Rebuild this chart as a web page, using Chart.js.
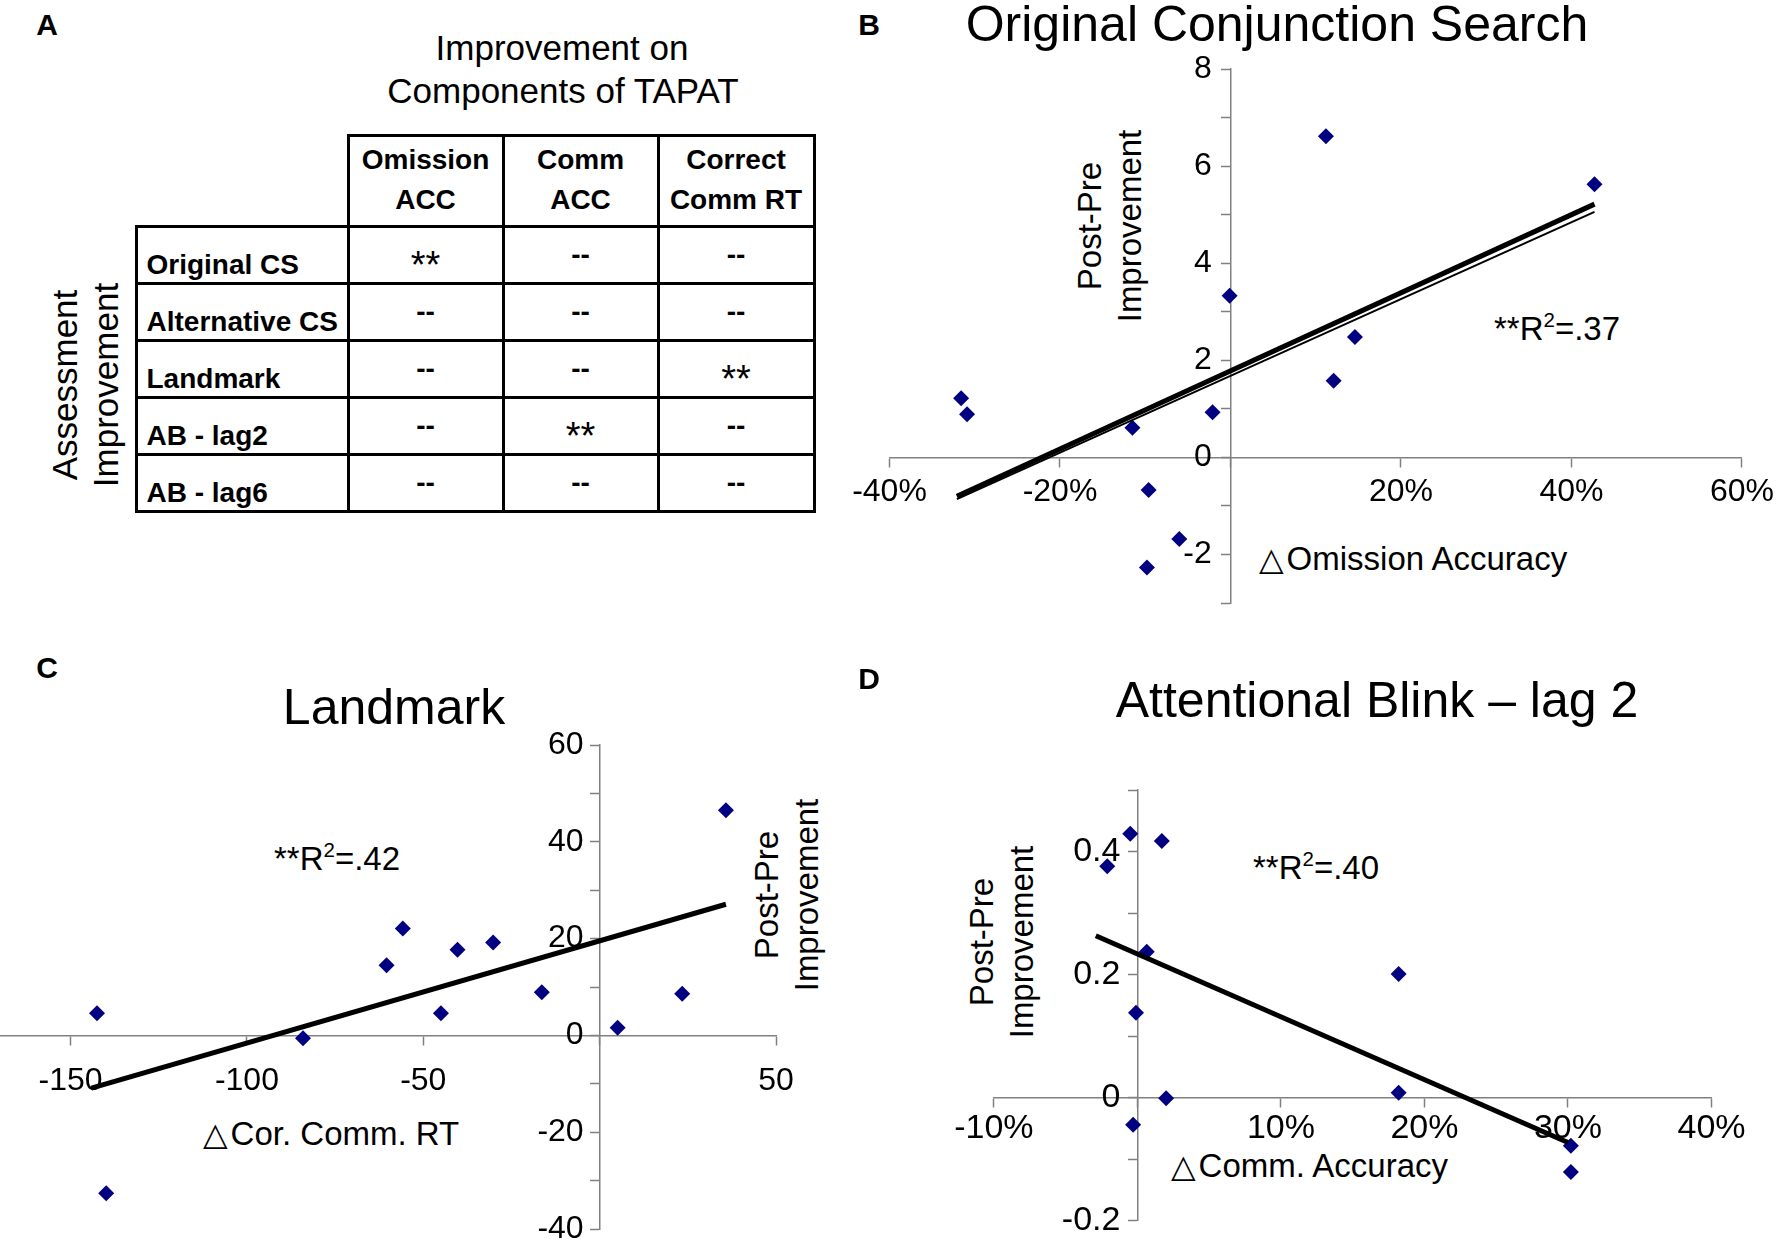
<!DOCTYPE html>
<html>
<head>
<meta charset="utf-8">
<title>TAPAT improvement</title>
<script src="https://cdn.jsdelivr.net/npm/chart.js@4.4.1/dist/chart.umd.min.js"></script>
<style>
  html, body { margin: 0; padding: 0; background: #fff; }
  body { width: 1781px; height: 1251px; position: relative; overflow: hidden;
         font-family: "Liberation Sans", Arial, sans-serif; color: #000; }
  .abs { position: absolute; white-space: nowrap; line-height: 1; }
  .ctr { transform: translate(-50%, -50%); }
  .lft { transform: translate(0, -50%); }
  .panel { font-weight: bold; font-size: 30px; }
  .title { font-size: 50px; }
  .note { font-size: 33px; }
  .tri { font-family: "DejaVu Sans", sans-serif; font-size: 32px; margin-right: 3px; }
  .ytitle { font-size: 33px; line-height: 40px; text-align: center;
            transform: translate(-50%, -50%) rotate(-90deg); }
  .head35 { font-size: 35px; }
  .rot35 { font-size: 35px; line-height: 41px; text-align: center;
           transform: translate(-50%, -50%) rotate(-90deg); }
  sup { font-size: 0.62em; vertical-align: 0.6em; line-height: 0; }
  canvas { position: absolute; }
  #tapat { position: absolute; left: 134.5px; top: 133.5px; border-collapse: collapse;
           table-layout: fixed; width: 678px; font-size: 28px; font-weight: bold; }
  #tapat td, #tapat th { border: 3px solid #000; padding: 0; overflow: visible; white-space: nowrap; }
  #tapat .corner { border-top: none; border-left: none; }
  #tapat th { font-weight: bold; vertical-align: bottom; line-height: 40px; padding-bottom: 5px; text-align: center; }
  #tapat td.rowlab { text-align: left; vertical-align: bottom; line-height: 32px; padding-left: 9px; padding-bottom: 1px; }
  #tapat td.mark { text-align: center; vertical-align: middle; line-height: 32px; }
  #tapat .stars { font-weight: normal; font-size: 38px; position: relative; top: 12px; }
</style>
</head>
<body>

<!-- panel A -->
<div class="abs ctr panel" style="left:47px; top:25px;">A</div>
<div class="abs ctr head35" style="left:562px; top:47px;">Improvement on</div>
<div class="abs ctr head35" style="left:563px; top:90px;">Components of TAPAT</div>
<div class="abs rot35" style="left:85px; top:385px;">Assessment<br>Improvement</div>
<table id="tapat"></table>

<!-- panel B -->
<div class="abs ctr panel" style="left:869px; top:25px;">B</div>
<div class="abs ctr title" style="left:1277px; top:24px;">Original Conjunction Search</div>
<div class="abs ytitle" style="left:1110px; top:226px;">Post-Pre<br>Improvement</div>
<div class="abs lft note" style="left:1494px; top:328px;">**R<sup>2</sup>=.37</div>
<div class="abs lft note" style="left:1259px; top:558px;"><span class="tri">△</span>Omission Accuracy</div>
<canvas id="chartB" width="951" height="590" style="left:830px; top:40px;"></canvas>

<!-- panel C -->
<div class="abs ctr panel" style="left:47px; top:668px;">C</div>
<div class="abs ctr title" style="left:394px; top:707px;">Landmark</div>
<div class="abs ytitle" style="left:787px; top:895px;">Post-Pre<br>Improvement</div>
<div class="abs lft note" style="left:274px; top:858px;">**R<sup>2</sup>=.42</div>
<div class="abs lft note" style="left:203px; top:1133px;"><span class="tri">△</span>Cor. Comm. RT</div>
<canvas id="chartC" width="890" height="561" style="left:-30px; top:690px;"></canvas>

<!-- panel D -->
<div class="abs ctr panel" style="left:869px; top:679px;">D</div>
<div class="abs ctr title" style="left:1377px; top:700px;">Attentional Blink – lag 2</div>
<div class="abs ytitle" style="left:1002px; top:942px;">Post-Pre<br>Improvement</div>
<div class="abs lft note" style="left:1253px; top:867px;">**R<sup>2</sup>=.40</div>
<div class="abs lft note" style="left:1171px; top:1165px;"><span class="tri">△</span>Comm. Accuracy</div>
<canvas id="chartD" width="881" height="551" style="left:900px; top:700px;"></canvas>

<script>
// ---- panel A: significance table ----
const tableCols = [['Omission', 'ACC'], ['Comm', 'ACC'], ['Correct', 'Comm RT']];
const tableRows = ['Original CS', 'Alternative CS', 'Landmark', 'AB - lag2', 'AB - lag6'];
const tableMarks = [
  ['**', '--', '--'],
  ['--', '--', '--'],
  ['--', '--', '**'],
  ['--', '**', '--'],
  ['--', '--', '--']
];

// ---- panel B: Original Conjunction Search ----
const bOmissionAcc = [-31.6, -30.9, -11.5, -9.6, -9.8, -6.0, -2.1, -0.1, 11.2, 12.1, 14.6, 42.7];
const bImprovement = [1.22, 0.89, 0.61, -0.67, -2.27, -1.68, 0.93, 3.33, 6.62, 1.58, 2.48, 5.63];
const bTrendX = [-32.1, 42.7];
const bTrendY = [-0.80, 5.22];
const bTrend2Y = [-0.86, 5.06];
const bXTicks = [-40, -20, 0, 20, 40, 60];
const bYTicks = [-3, -2, -1, 0, 1, 2, 3, 4, 5, 6, 7, 8];

// ---- panel C: Landmark ----
const cCommRT = [-142.5, -139.9, -84.1, -60.4, -55.8, -45.0, -40.3, -30.2, -16.4, 5.1, 23.4, 35.8];
const cImprovement = [4.6, -32.6, -0.6, 14.5, 22.1, 4.6, 17.7, 19.2, 8.9, 1.6, 8.6, 46.5];
const cTrendX = [-144.1, 35.8];
const cTrendY = [-10.9, 27.1];
const cXTicks = [-150, -100, -50, 0, 50];
const cYTicks = [-40, -30, -20, -10, 0, 10, 20, 30, 40, 50, 60];

// ---- panel D: Attentional Blink - lag 2 ----
const dCommAcc = [-2.1, -0.5, 1.7, 0.65, -0.1, 2.0, -0.3, 18.2, 18.2, 30.2, 30.2];
const dImprovement = [0.376, 0.429, 0.417, 0.237, 0.138, -0.001, -0.044, 0.201, 0.008, -0.078, -0.121];
const dTrendX = [-2.9, 30.0];
const dTrendY = [0.263, -0.073];
const dXTicks = [-10, 0, 10, 20, 30, 40];
const dYTicks = [-0.2, -0.1, 0, 0.1, 0.2, 0.3, 0.4, 0.5];

// build table
const tbl = document.getElementById('tapat');
let html = '<colgroup><col style="width:212px"><col style="width:155px"><col style="width:155px"><col style="width:156px"></colgroup>';
html += '<tr style="height:91px"><td class="corner"></td>' +
  tableCols.map(c => '<th>' + c.join('<br>') + '</th>').join('') + '</tr>';
tableRows.forEach((r, i) => {
  html += '<tr style="height:57px"><td class="rowlab">' + r + '</td>' +
    tableMarks[i].map(m => '<td class="mark">' + (m === '**' ? '<span class="stars">**</span>' : m) + '</td>').join('') +
    '</tr>';
});
tbl.innerHTML = html;

const FONT = '"Liberation Sans", Arial, sans-serif';
const AXIS_GREY = '#808080';
const MARKER = '#000080';

function pts(xs, ys) {
  return xs.map((x, i) => ({ x: x, y: ys[i] }));
}

function axis(opts) {
  return {
    type: 'linear',
    min: opts.min,
    max: opts.max,
    position: opts.position,
    afterBuildTicks: s => { s.ticks = opts.ticks.map(v => ({ value: v })); },
    grid: { display: true, drawOnChartArea: false, drawTicks: true,
            tickLength: 9, tickColor: AXIS_GREY, tickWidth: 1.5 },
    border: { display: true, color: AXIS_GREY, width: 1.5 },
    ticks: { autoSkip: false, maxRotation: 0, color: '#000', padding: opts.pad,
             font: { family: FONT, size: opts.size }, callback: opts.label }
  };
}

// y labels on a crossing axis are right-aligned on the axis line itself,
// a trailing gap keeps them off it
const GAP = '\u2002';

function scatter(id, trends, xs, ys, xAxis, yAxis, padding) {
  const datasets = trends.map(t => ({
    data: pts(t.x, t.y), showLine: true, borderColor: '#000', borderWidth: t.w,
    pointRadius: 0, fill: false
  }));
  datasets.push({
    data: pts(xs, ys), pointStyle: 'rectRot', pointRadius: 8,
    backgroundColor: MARKER, borderColor: MARKER, borderWidth: 0
  });
  return new Chart(document.getElementById(id), {
    type: 'scatter',
    data: { datasets: datasets },
    options: {
      responsive: false, animation: false, devicePixelRatio: 1,
      layout: { padding: padding },
      plugins: { legend: { display: false }, tooltip: { enabled: false } },
      scales: { x: xAxis, y: yAxis }
    }
  });
}

scatter('chartB',
  [{ x: bTrendX, y: bTrendY, w: 5 }, { x: bTrendX, y: bTrend2Y, w: 2 }],
  bOmissionAcc, bImprovement,
  axis({ min: -40, max: 60, position: { y: 0 }, ticks: bXTicks, pad: 7, size: 32,
         label: v => v === 0 ? '' : v + '%' }),
  axis({ min: -3, max: 8, position: { x: 0 }, ticks: bYTicks, pad: 0, size: 32,
         label: v => (v % 2 === 0) ? v + GAP + '\u200A' : '' }),
  { left: 59.5, right: 37, top: 29.2, bottom: 27 });

scatter('chartC',
  [{ x: cTrendX, y: cTrendY, w: 5 }],
  cCommRT, cImprovement,
  axis({ min: -170, max: 50, position: { y: 0 }, ticks: cXTicks, pad: 18, size: 32,
         label: v => v === 0 ? '' : String(v) }),
  axis({ min: -40, max: 60, position: { x: 0 }, ticks: cYTicks, pad: 0, size: 32,
         label: v => (v % 20 === 0) ? v + GAP : '' }),
  { left: 30, right: 84, top: 55, bottom: 22 });

scatter('chartD',
  [{ x: dTrendX, y: dTrendY, w: 5 }],
  dCommAcc, dImprovement,
  axis({ min: -10, max: 40, position: { y: 0 }, ticks: dXTicks, pad: 2, size: 34,
         label: v => v === 0 ? '' : v + '%' }),
  axis({ min: -0.2, max: 0.5, position: { x: 0 }, ticks: dYTicks, pad: 0, size: 34,
         label: v => {
           const k = Math.round(v * 10);
           if (k % 2 !== 0 || k > 4) return '';
           return (k === 0 ? '0' : (k / 10).toFixed(1)) + GAP;
         } }),
  { left: 93.9, right: 69.5, top: 90, bottom: 30.3 });
</script>
</body>
</html>
